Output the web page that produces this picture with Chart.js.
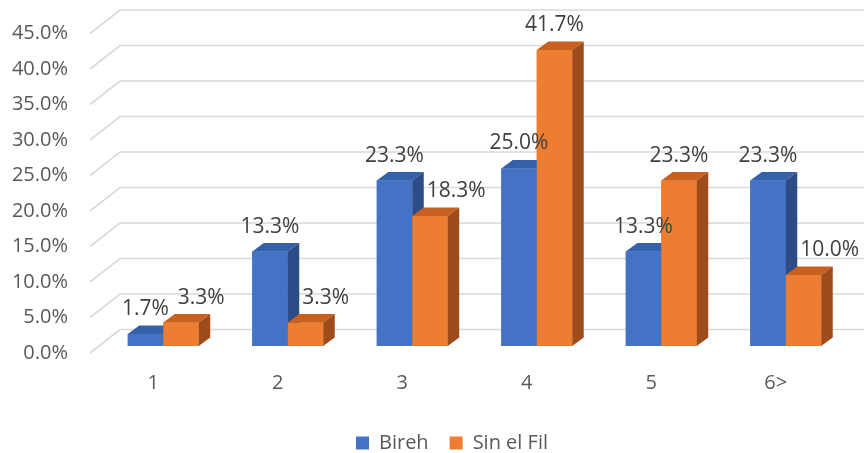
<!DOCTYPE html>
<html>
<head>
<meta charset="utf-8">
<script src="https://cdn.jsdelivr.net/npm/chart.js@4/dist/chart.umd.min.js"></script>
<style>
  html, body { margin: 0; padding: 0; background: #ffffff; overflow: hidden; }
  #wrap { width: 864px; height: 453px; }
</style>
</head>
<body>
<div id="wrap"><canvas id="c" width="864" height="453"></canvas></div>
<script>
// Household size categories and the share of households in each town
const categories = ['1', '2', '3', '4', '5', '6>'];
const seriesNames = ['Bireh', 'Sin el Fil'];
const birehValues = [1.7, 13.3, 23.3, 25.0, 13.3, 23.3];
const sinElFilValues = [3.3, 3.3, 18.3, 41.7, 23.3, 10.0];
const yTickValues = [0, 5, 10, 15, 20, 25, 30, 35, 40, 45];

const FONT = "'Open Sans', 'Liberation Sans', sans-serif";

// Depth of each 3D column (offset of its back edge)
const BAR_DX = 11.5, BAR_DY = -8.5;

// Back wall grid: diagonal from the front floor edge to the back wall, then across
const wallGrid = {
  id: 'wallGrid',
  beforeDatasetsDraw(chart) {
    const { ctx, chartArea, scales: { y } } = chart;
    const frontX = chartArea.left - 11, backX = chartArea.left + 19;
    ctx.save();
    ctx.strokeStyle = '#D9D9D9';
    ctx.lineWidth = 1.6;
    y.ticks.forEach(t => {
      const py = y.getPixelForValue(t.value);
      ctx.beginPath();
      ctx.moveTo(frontX, py + 7);
      ctx.lineTo(backX, py - 16.5);
      ctx.lineTo(chart.width, py - 16.5);
      ctx.stroke();
    });
    ctx.restore();
  }
};

// Columns drawn series by series, left to right: front face, then its top
// and side faces, so each right-hand column covers its neighbour's side
const bar3d = {
  id: 'bar3d',
  afterDatasetsDraw(chart) {
    const { ctx } = chart;
    ctx.save();
    chart.data.datasets.forEach((ds, di) => {
      chart.getDatasetMeta(di).data.forEach(bar => {
        bar.draw(ctx);
        const b = bar.getProps(['x', 'y', 'base', 'width'], true);
        const l = b.x - b.width / 2, r = b.x + b.width / 2;
        const t = Math.min(b.y, b.base), bot = Math.max(b.y, b.base);
        ctx.fillStyle = ds.topColor;
        ctx.beginPath();
        ctx.moveTo(l, t);
        ctx.lineTo(l + BAR_DX, t + BAR_DY);
        ctx.lineTo(r + BAR_DX, t + BAR_DY);
        ctx.lineTo(r, t);
        ctx.closePath();
        ctx.fill();
        ctx.fillStyle = ds.sideColor;
        ctx.beginPath();
        ctx.moveTo(r, t);
        ctx.lineTo(r + BAR_DX, t + BAR_DY);
        ctx.lineTo(r + BAR_DX, bot + BAR_DY);
        ctx.lineTo(r, bot);
        ctx.closePath();
        ctx.fill();
      });
    });
    ctx.restore();
  }
};

// Value labels above the columns; a second-series label that would sit on
// the neighbouring column or its label is moved to the right of that column
const valueLabels = {
  id: 'valueLabels',
  afterDatasetsDraw(chart) {
    const { ctx } = chart;
    ctx.save();
    ctx.font = "21px " + FONT;
    ctx.fillStyle = '#404040';
    ctx.textAlign = 'center';
    ctx.textBaseline = 'middle';
    const m0 = chart.getDatasetMeta(0), m1 = chart.getDatasetMeta(1);
    const h = 22;
    const rectOf = (cx, cy, w) => ({ l: cx - w / 2, r: cx + w / 2, t: cy - h / 2, b: cy + h / 2 });
    const hit = (a, b) => a.l < b.r && a.r > b.l && a.t < b.b && a.b > b.t;
    chart.data.labels.forEach((_, i) => {
      const b0 = m0.data[i].getProps(['x', 'y', 'base', 'width'], true);
      const b1 = m1.data[i].getProps(['x', 'y', 'base', 'width'], true);
      const v0 = chart.data.datasets[0].data[i], v1 = chart.data.datasets[1].data[i];
      const s0 = v0.toFixed(1) + '%', s1 = v1.toFixed(1) + '%';
      const w0 = ctx.measureText(s0).width, w1 = ctx.measureText(s1).width;
      const y0 = b0.y - 25, y1 = b1.y - 25;
      ctx.fillText(s0, b0.x, y0);
      const lab0 = rectOf(b0.x, y0, w0);
      const col0 = { l: b0.x - b0.width / 2, r: b0.x + b0.width / 2 + BAR_DX, t: b0.y + BAR_DY, b: b0.base };
      let x1 = b1.x;
      const lab1 = rectOf(x1, y1, w1);
      if (hit(lab1, lab0) || hit(lab1, col0)) {
        x1 = col0.r + 3 + w1 / 2;
      }
      ctx.fillText(s1, x1, y1);
    });
    ctx.restore();
  }
};

new Chart(document.getElementById('c'), {
  type: 'bar',
  data: {
    labels: categories,
    datasets: [
      { label: seriesNames[0], data: birehValues, backgroundColor: '#4472C4',
        topColor: '#3560AA', sideColor: '#2B4C86' },
      { label: seriesNames[1], data: sinElFilValues, backgroundColor: '#ED7D31',
        topColor: '#C8611F', sideColor: '#9E4C1B' }
    ]
  },
  options: {
    responsive: false,
    animation: false,
    devicePixelRatio: 1,
    layout: { autoPadding: false, padding: { left: 56, right: 16, top: 26.5, bottom: -10 } },
    datasets: { bar: { categoryPercentage: 0.57, barPercentage: 1, borderWidth: 0 } },
    scales: {
      x: {
        grid: { display: false, drawTicks: false },
        border: { display: false },
        ticks: { color: '#595959', font: { family: FONT, size: 20 }, padding: 25, labelOffset: -10, maxRotation: 0 },
        afterFit(s) {
          s.height = 66;
          s.paddingLeft = 0;
          s.paddingRight = 0;
        }
      },
      y: {
        min: 0, max: 45,
        grid: { display: false, drawTicks: false },
        border: { display: false },
        afterBuildTicks(s) { s.ticks = yTickValues.map(v => ({ value: v })); },
        ticks: {
          color: '#595959', font: { family: FONT, size: 20 }, padding: 33, labelOffset: 7,
          callback: v => Number(v).toFixed(1) + '%'
        },
        afterFit(s) {
          s.width = 45;
          // the plot area is set by the layout padding alone
          s.paddingTop = 0;
          s.paddingBottom = 0;
          // tick labels reach into the page margin, so they are not clipped to the axis box
          s._computeLabelArea = () => undefined;
        }
      }
    },
    plugins: {
      legend: {
        position: 'bottom',
        labels: { boxWidth: 13, boxHeight: 13, padding: 21, color: '#595959', font: { family: FONT, size: 20 } }
      },
      tooltip: { enabled: false }
    }
  },
  plugins: [wallGrid, bar3d, valueLabels]
});
</script>
</body>
</html>
